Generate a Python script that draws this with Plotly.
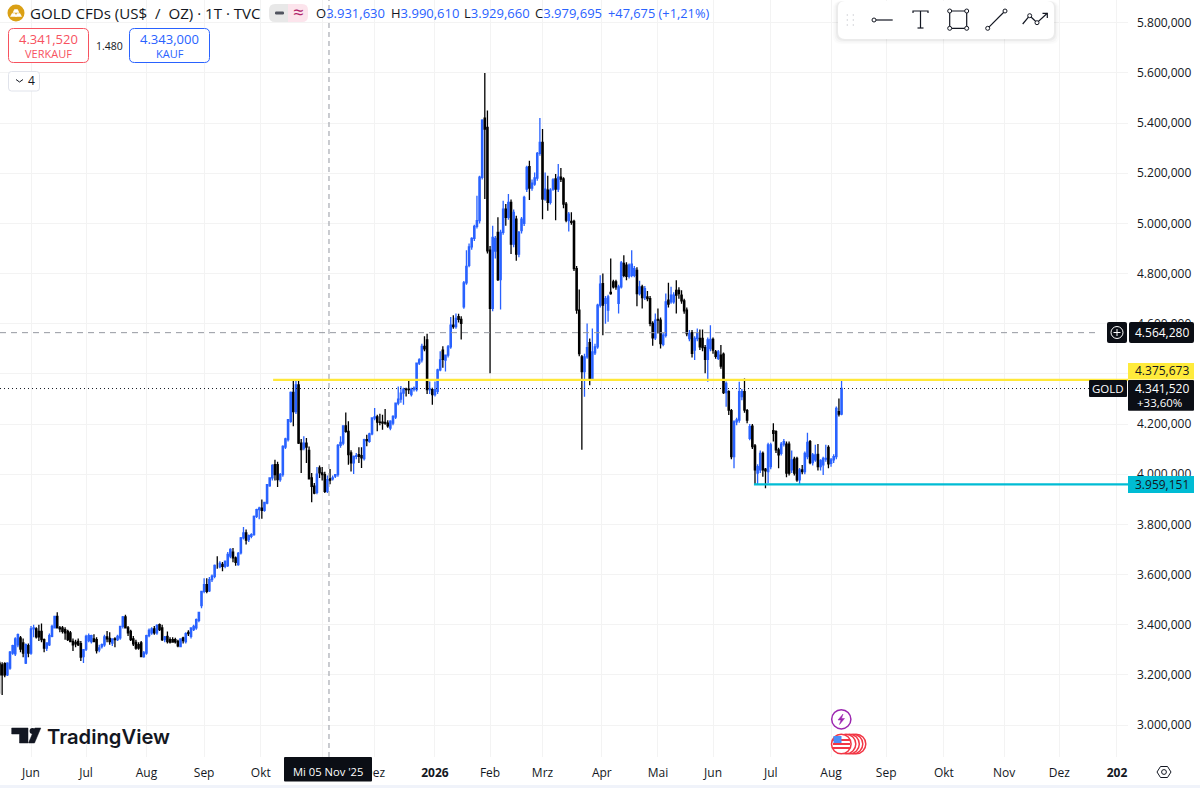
import plotly.graph_objects as go

first_bar = -12
opens = [3247,3240,3245,3200,3227,3287,3284,3320,3347,3327,3247,3316,
3287,3383,3383,3373,3373,3340,3307,3320,3353,3387,
3433,3387,3387,3380,3373,3367,3333,3329,3333,3324,
3273,3303,3337,3333,3343,3340,3300,3313,3320,3351,
3345,3327,3343,3340,3347,3393,3431,3387,3373,3343,
3329,3320,3327,3273,3287,3356,3367,3383,3367,3400,
3387,3340,3353,3340,3340,3340,3333,3313,3347,3333,
3369,3353,3380,3387,3417,3476,3533,3560,3535,3580,
3593,3631,3631,3640,3633,3636,3673,3689,3666,3640,
3686,3746,3766,3739,3752,3759,3832,3859,3865,3856,
3885,3954,3985,4038,4038,3978,3998,4108,4138,4211,
4326,4250,4356,4124,4104,4124,4095,3985,3952,3928,
4025,4005,3998,3932,3981,3981,3992,3998,4115,4124,
4193,4171,4085,4045,4071,4078,4074,4062,4138,4131,
4161,4224,4228,4208,4208,4207,4204,4184,4204,4228,
4283,4299,4323,4339,4339,4317,4339,4337,4443,4456,
4510,4535,4337,4337,4317,4330,4416,4495,4455,4475,
4508,4594,4588,4628,4617,4667,4763,4833,4906,4940,
4988,5011,5184,5420,5383,4893,4661,4890,4964,4776,
4964,5057,5024,5084,4917,5017,4878,4971,5000,5137,
5226,5141,5157,5181,5279,5323,5097,5133,5084,5137,
5177,5137,5184,5177,5077,5011,5008,5008,4820,4654,
4468,4409,4468,4524,4382,4484,4508,4674,4760,4681,
4654,4725,4767,4767,4681,4747,4840,4833,4789,4793,
4793,4813,4720,4747,4704,4707,4700,4601,4544,4617,
4614,4518,4554,4694,4687,4687,4733,4733,4714,4691,
4654,4541,4564,4495,4541,4541,4541,4505,4458,4501,
4537,4488,4462,4475,4479,4325,4329,4253,4070,4209,
4216,4309,4329,4253,4143,4192,4113,4004,4017,4083,
4020,4010,4030,4174,4170,4097,4083,4120,4120,4120,
4017,4060,4063,3977,4017,4010,4070,4130,4046,4057,
4079,4030,4037,4060,4107,4043,4057,4070,4249,4240]
highs = [3255,3250,3250,3250,3295,3320,3350,3365,3355,3345,3325,3325,
3395,3400,3390,3400,3405,3345,3330,3365,3400,3435,
3450,3395,3395,3390,3380,3375,3345,3340,3345,3335,
3300,3360,3365,3360,3362,3350,3320,3325,3360,3375,
3370,3345,3350,3360,3395,3435,3440,3395,3380,3355,
3340,3330,3335,3295,3360,3385,3390,3395,3402,3405,
3400,3355,3373,3350,3350,3348,3340,3345,3352,3370,
3378,3390,3400,3425,3450,3535,3585,3585,3590,3600,
3640,3673,3653,3650,3655,3690,3705,3706,3672,3690,
3750,3789,3779,3760,3765,3835,3862,3870,3899,3890,
3960,3987,4040,4058,4050,4005,4115,4145,4220,4330,
4379,4379,4376,4140,4151,4144,4110,4005,3965,4029,
4035,4029,4010,3995,4021,3995,4000,4120,4151,4195,
4246,4211,4095,4075,4085,4107,4107,4141,4157,4165,
4226,4264,4237,4241,4237,4260,4215,4215,4235,4285,
4350,4352,4345,4345,4376,4345,4350,4445,4462,4520,
4550,4560,4370,4345,4370,4420,4490,4510,4475,4515,
4627,4634,4641,4640,4630,4770,4893,4920,4945,4995,
5110,5190,5415,5600,5450,4910,4991,4950,5024,4975,
5090,5077,5117,5095,5055,5030,4970,5025,5110,5230,
5250,5175,5203,5285,5420,5376,5203,5190,5140,5180,
5197,5237,5221,5184,5085,5045,5044,5015,4830,4736,
4475,4480,4601,4541,4581,4520,4680,4793,4800,4710,
4715,4860,4775,4775,4755,4850,4873,4845,4840,4893,
4830,4825,4771,4755,4750,4730,4710,4610,4641,4661,
4625,4565,4720,4763,4747,4725,4773,4745,4733,4700,
4665,4575,4575,4550,4581,4577,4577,4515,4545,4594,
4545,4495,4495,4515,4485,4370,4335,4260,4215,4225,
4369,4340,4382,4260,4200,4200,4120,4040,4094,4090,
4025,4125,4125,4203,4175,4105,4128,4140,4130,4130,
4094,4070,4070,4025,4037,4090,4165,4136,4085,4117,
4120,4060,4070,4117,4115,4065,4080,4270,4302,4372]
lows = [3125,3120,3190,3195,3220,3280,3275,3310,3290,3270,3243,3270,
3280,3350,3345,3335,3330,3290,3295,3315,3350,3385,
3385,3370,3365,3340,3335,3330,3295,3310,3315,3255,
3247,3295,3330,3325,3330,3285,3290,3305,3312,3330,
3320,3315,3310,3335,3340,3385,3385,3355,3335,3315,
3300,3300,3270,3268,3280,3350,3360,3360,3360,3375,
3335,3330,3325,3325,3330,3325,3310,3310,3325,3325,
3355,3345,3375,3380,3410,3465,3525,3525,3530,3570,
3585,3623,3625,3613,3625,3630,3665,3649,3635,3635,
3680,3740,3720,3730,3745,3755,3825,3820,3822,3850,
3880,3950,3975,3975,3949,3970,3990,4100,4130,4205,
4191,4240,4120,4005,4095,4045,3980,3888,3920,3920,
3985,3975,3925,3925,3960,3975,3985,3990,4105,4115,
4165,4038,4011,4001,4060,4045,4025,4055,4111,4125,
4155,4215,4171,4195,4177,4197,4185,4175,4195,4220,
4275,4285,4277,4310,4320,4310,4330,4330,4435,4445,
4490,4320,4320,4277,4310,4320,4410,4424,4409,4465,
4500,4580,4580,4605,4537,4660,4755,4825,4895,4930,
4980,5000,5175,5097,4880,4402,4650,4860,4770,4657,
4955,4991,5015,4878,4905,4851,4865,4960,4990,5125,
5093,5130,5150,5170,5270,5017,5090,5050,5075,5130,
5013,5125,5165,5060,5005,4968,4995,4810,4640,4470,
4097,4309,4460,4355,4375,4475,4500,4665,4554,4600,
4608,4715,4740,4735,4641,4740,4785,4773,4780,4785,
4785,4670,4712,4661,4695,4690,4590,4512,4535,4561,
4501,4510,4545,4665,4680,4680,4641,4700,4680,4640,
4550,4530,4465,4455,4530,4495,4490,4402,4369,4490,
4480,4460,4455,4420,4320,4269,4236,4060,4024,4195,
4205,4295,4245,4203,4135,4100,3957,3960,4005,3990,
3944,3964,4020,4130,4085,4024,4075,4110,3988,3995,
4005,3995,3970,3957,4000,4000,4060,4040,4035,4050,
4015,4015,3997,4050,4024,4030,4045,4060,4230,4235]
closes = [3200,3200,3200,3247,3290,3316,3343,3360,3303,3287,3320,3287,
3383,3387,3351,3351,3340,3307,3327,3356,3393,3433,
3387,3383,3373,3367,3340,3333,3320,3324,3320,3271,
3300,3353,3356,3356,3333,3297,3307,3320,3351,3343,
3333,3343,3340,3353,3393,3431,3387,3367,3340,3324,
3307,3307,3273,3287,3356,3377,3383,3367,3397,3380,
3340,3351,3333,3331,3331,3332,3316,3343,3337,3364,
3364,3387,3393,3420,3449,3533,3560,3533,3580,3593,
3636,3631,3644,3633,3653,3680,3700,3666,3649,3684,
3746,3766,3737,3755,3759,3832,3859,3865,3856,3888,
3958,3985,4035,3998,3978,3998,4111,4141,4217,4326,
4250,4356,4124,4098,4124,4108,3981,3952,3925,4000,
4005,3998,3932,3978,3976,3985,3998,4115,4127,4193,
4171,4078,4045,4071,4074,4071,4065,4138,4134,4161,
4224,4228,4208,4207,4204,4204,4193,4211,4230,4283,
4299,4323,4339,4337,4337,4339,4343,4443,4456,4510,
4500,4337,4340,4317,4337,4416,4456,4458,4475,4508,
4594,4588,4621,4617,4601,4763,4829,4906,4940,4988,
5011,5184,5412,5376,4891,4661,4944,4940,4776,4964,
5057,5024,5084,4917,5044,4878,4964,5017,5104,5223,
5141,5160,5181,5279,5323,5097,5137,5084,5133,5173,
5137,5184,5177,5077,5013,5037,5004,4820,4654,4481,
4409,4468,4505,4382,4488,4508,4674,4758,4674,4700,
4707,4720,4747,4747,4747,4842,4793,4789,4833,4837,
4820,4720,4747,4704,4740,4700,4601,4544,4614,4614,
4521,4554,4687,4678,4714,4714,4714,4720,4691,4651,
4561,4561,4482,4541,4561,4508,4505,4458,4535,4537,
4495,4470,4488,4431,4325,4362,4256,4070,4209,4216,
4329,4329,4256,4216,4190,4110,4017,4030,4083,4017,
4013,4117,4117,4163,4097,4077,4120,4130,4004,4004,
4057,4004,3977,4017,4010,4083,4127,4046,4077,4077,
4030,4055,4063,4063,4041,4057,4070,4262,4240,4342]

month_bars = [0,21,44,66,87.6,111,131,154,175,195,217.6,239,260,282,305,326,348,371,392,414]
month_labels = ["Jun","Jul","Aug","Sep","Okt","","Dez","<b>2026</b>","Feb","Mrz","Apr","Mai","Jun","Jul","Aug","Sep","Okt","Nov","Dez","<b>202</b>"]
price_ticks = [3000,3200,3400,3600,3800,4000,4200,4400,4600,4800,5000,5200,5400,5600,5800]
price_labels = ["3.000,000","3.200,000","3.400,000","3.600,000","3.800,000","4.000,000","4.200,000","","4.600,000","4.800,000","5.000,000","5.200,000","5.400,000","5.600,000","5.800,000"]
resistance, support, alert_level, last_price = 4375.673, 3959.151, 4564.280, 4341.520
crosshair_bar = 113.6
resistance_start_bar = 92.3
support_start_bar = 275.6

PLOT_W, PLOT_H = 1128.0, 757.0
FONT = "Open Sans"
INK = "#131722"
BLUE = "#2962FF"
RED = "#F7525F"
GRID = "#F3F3F3"

def X(px): return px / PLOT_W
def Y(py): return 1 - py / PLOT_H

shapes, notes = [], []

def rect(x0, y0, x1, y1, fill="rgba(0,0,0,0)", line=None, w=1, r=0):
    if r:
        p = (f"M {X(x0+r)} {Y(y0)} L {X(x1-r)} {Y(y0)} Q {X(x1)} {Y(y0)} {X(x1)} {Y(y0+r)} "
             f"L {X(x1)} {Y(y1-r)} Q {X(x1)} {Y(y1)} {X(x1-r)} {Y(y1)} L {X(x0+r)} {Y(y1)} "
             f"Q {X(x0)} {Y(y1)} {X(x0)} {Y(y1-r)} L {X(x0)} {Y(y0+r)} Q {X(x0)} {Y(y0)} {X(x0+r)} {Y(y0)} Z")
        shapes.append(dict(type="path", xref="paper", yref="paper", path=p, fillcolor=fill,
                           line=dict(color=line or "rgba(0,0,0,0)", width=w if line else 0), layer="above"))
    else:
        shapes.append(dict(type="rect", xref="paper", yref="paper", x0=X(x0), x1=X(x1), y0=Y(y0), y1=Y(y1),
                           fillcolor=fill, line=dict(color=line or "rgba(0,0,0,0)", width=w if line else 0), layer="above"))

def seg(points, color=INK, w=1.2, fill=None, close=False):
    p = "M " + " L ".join(f"{X(a)} {Y(b)}" for a, b in points) + (" Z" if close else "")
    shapes.append(dict(type="path", xref="paper", yref="paper", path=p, fillcolor=fill or "rgba(0,0,0,0)",
                       line=dict(color=color, width=w), layer="above"))

def circ(cx, cy, r, color=INK, w=1.2, fill="rgba(0,0,0,0)"):
    shapes.append(dict(type="circle", xref="paper", yref="paper", x0=X(cx-r), x1=X(cx+r), y0=Y(cy-r), y1=Y(cy+r),
                       fillcolor=fill, line=dict(color=color, width=w), layer="above"))

def txt(x, y, s, size=12, color=INK, anchor="left", weight=None, family=FONT):
    f = dict(family=family, size=size, color=color)
    if weight: f["weight"] = weight
    notes.append(dict(xref="paper", yref="paper", x=X(x), y=Y(y), text=s, showarrow=False,
                      xanchor=anchor, yanchor="middle", font=f, borderpad=0, borderwidth=0))

# level lines
shapes += [
    dict(type="line", xref="paper", yref="y", x0=0, x1=X(1100), y0=alert_level, y1=alert_level,
         line=dict(color="#9598A1", width=1, dash="6px,5px"), layer="above"),
    dict(type="line", xref="paper", yref="y", x0=0, x1=X(1089), y0=last_price, y1=last_price,
         line=dict(color=INK, width=1, dash="1px,3px"), layer="above"),
    dict(type="line", xref="x", yref="paper", x0=crosshair_bar, x1=crosshair_bar, y0=0, y1=1,
         line=dict(color="#9598A1", width=1, dash="5px,4px"), layer="above"),
    dict(type="line", xref="x", yref="y", x0=resistance_start_bar, x1=418.2, y0=resistance, y1=resistance,
         line=dict(color="#FFE838", width=2.2), layer="above"),
    dict(type="line", xref="x", yref="y", x0=support_start_bar, x1=418.2, y0=support, y1=support,
         line=dict(color="#00BCD4", width=2.2), layer="above"),
]

# bottom strip, crosshair date label
rect(0, 785, 1200, 788, fill="#F0F3FA")
rect(284, 757, 372, 781.5, fill="#0B0E15", r=1)
txt(328, 771.5, "Mi 05 Nov '25", 11.2, "#FFFFFF", "center")

# header
circ(16, 13, 8.5, "#DAA015", 0, "#DAA015")
seg([(10.5,16.5),(12,13.5),(15,13.5),(16.5,16.5)], "#FFFFFF", 0.5, "#FFFFFF", True)
seg([(15.5,16.5),(17,13.5),(20,13.5),(21.5,16.5)], "#FFFFFF", 0.5, "#FFFFFF", True)
seg([(13,12.5),(14.5,9.5),(17.5,9.5),(19,12.5)], "#FFFFFF", 0.5, "#FFFFFF", True)
txt(30, 13, "GOLD CFDs (US$  /  OZ) · 1T · TVC", 15.1)
rect(269, 4, 288, 22, fill="#E8E8E8", r=6)
rect(288, 4, 308, 22, fill="#FCE4EC", r=6)
rect(282, 4, 294, 22, fill="#E8E8E8")
rect(288, 4, 294, 22, fill="#FCE4EC")
rect(275, 11.5, 284, 14.5, fill="#50535E", r=1.2)
txt(298, 12.5, "≈", 19, "#B0226A", "center")
B = '<span style="color:#2962FF">%s</span>'
txt(316, 13, "O" + B % "3.931,630", 13)
txt(390.5, 13, "H" + B % "3.990,610", 13)
txt(464, 13, "L" + B % "3.929,660", 13)
txt(535, 13, "C" + B % "3.979,695", 13)
txt(608, 13, B % "+47,675 (+1,21%)", 12.8)

rect(8.5, 28.5, 88.5, 62.5, fill="#FFFFFF", line=RED, w=1, r=5)
txt(48.5, 39.5, "4.341,520", 13, RED, "center")
txt(48.5, 53, "VERKAUF", 11, RED, "center")
txt(109, 46, "1.480", 10.5, INK, "center")
rect(129.5, 28.5, 209.5, 62.5, fill="#FFFFFF", line=BLUE, w=1, r=5)
txt(169.5, 39.5, "4.343,000", 13, BLUE, "center")
txt(169.5, 53, "KAUF", 11, BLUE, "center")
rect(8.5, 71.5, 39.5, 91, fill="#FFFFFF", line="#E0E3EB", w=1, r=3)
seg([(16,79.5),(19.5,82),(23,79.5)], INK, 1)
txt(31.5, 81, "4", 12, INK, "center")

# drawing toolbar
for k, a in ((5, .015), (3.5, .025), (2, .04)):
    rect(838-k, 1, 1054+k, 39+k, fill=f"rgba(0,0,0,{a})", r=8)
rect(838, 1, 1054, 39, fill="#FFFFFF", r=7)
for gx in (847.3, 853.3):
    for gy in (15, 20, 25):
        circ(gx, gy, 0.7, "#C9CBD1", 0, "#C9CBD1")
circ(874, 20, 2, INK, 1)
seg([(876,20),(892.7,20)])
seg([(913,13),(913,11),(928,11),(928,13)])
seg([(920.5,11),(920.5,28)])
seg([(917.5,28),(923.5,28)])
seg([(949.7,11),(966.7,11),(966.7,28.3),(949.7,28.3)], INK, 1.2, None, True)
for cx, cy in ((949.7,11),(966.7,11),(949.7,28.3),(966.7,28.3)):
    circ(cx, cy, 2, INK, 1, "#FFFFFF")
seg([(987.7,28.3),(1005,11)])
circ(987.7, 28.3, 2, INK, 1, "#FFFFFF")
circ(1005, 11, 2, INK, 1, "#FFFFFF")
seg([(1022.7,24),(1029.7,15.7),(1037,22.7),(1047.3,13.3)])
seg([(1042.5,13.3),(1047.3,13.3),(1047.3,18)])
circ(1029.7, 15.7, 2, INK, 1, "#FFFFFF")
circ(1037, 22.7, 2, INK, 1, "#FFFFFF")

# price tags
rect(1107, 322, 1127, 343, fill="#0B0E15", r=2)
circ(1117, 332.5, 6, "#FFFFFF", 1)
seg([(1113.5,332.5),(1120.5,332.5)], "#FFFFFF", 1)
seg([(1117,329),(1117,336)], "#FFFFFF", 1)
rect(1129, 322, 1194, 343, fill="#0B0E15", r=2)
txt(1161.5, 332.5, "4.564,280", 12, "#FFFFFF", "center")
rect(1128, 363, 1194, 379.5, fill="#FFEB3B")
txt(1161.5, 371, "4.375,673", 12, INK, "center")
rect(1128, 380, 1194, 410.7, fill="#0B0E15", r=1)
txt(1161.5, 388.5, "4.341,520", 12, "#FFFFFF", "center")
txt(1137, 402, "+33,60%", 11.5, "#FFFFFF", "left")
rect(1089, 380, 1127, 397, fill="#0B0E15", r=1)
txt(1108, 388.5, "GOLD", 11.5, "#FFFFFF", "center")
rect(1128, 476, 1194, 493, fill="#00BCD4")
txt(1161.5, 484.5, "3.959,151", 12, INK, "center")

# settings hexagon
seg([(1157,772),(1160.5,766.5),(1167.5,766.5),(1171,772),(1167.5,777.5),(1160.5,777.5)], INK, 1, None, True)
circ(1164, 772, 2.4, INK, 1)

# TradingView logo
seg([(11.7,728),(28,728),(28,743),(19.5,743),(19.5,734),(11.7,734)], "#131722", 0.5, "#131722", True)
circ(32.5, 731, 2.9, "#131722", 0, "#131722")
seg([(34.5,743),(28.5,743),(34.8,728),(40.8,728)], "#131722", 0.5, "#131722", True)
txt(47, 736.5, "TradingView", 20.2, "#131722", "left", 600, "Inter")

# events
circ(841.3, 719.3, 9.6, "#9C27B0", 1.5, "#FFFFFF")
seg([(843,714),(838,720),(841,720),(839.5,724.5),(844.5,718.5),(841.5,718.5)], "#9C27B0", 0.5, "#9C27B0", True)
for cx in (856, 853, 849.5, 846, 841.3):
    circ(cx, 744, 9.8, "#F23645", 1.5, "#FFFFFF")
rect(833, 739, 850, 741, fill="#F23645")
rect(833, 743, 850, 745, fill="#F23645")
rect(833, 747, 850, 749, fill="#F23645")
rect(833.5, 736, 841.5, 743, fill="#4C8DF6")

bar_index = list(range(first_bar, first_bar + len(opens)))
fig = go.Figure(go.Candlestick(
    x=bar_index, open=opens, high=highs, low=lows, close=closes,
    increasing=dict(line=dict(color=BLUE, width=1.3), fillcolor=BLUE),
    decreasing=dict(line=dict(color="#000000", width=1.3), fillcolor="#000000"),
    whiskerwidth=0, hoverinfo="skip", showlegend=False, name="GOLD CFDs",
))
fig.update_layout(
    width=1200, height=788, margin=dict(l=0, r=72, t=0, b=31, pad=0),
    paper_bgcolor="#FFFFFF", plot_bgcolor="#FFFFFF", separators=",.",
    font=dict(family=FONT, size=12, color=INK), showlegend=False,
    shapes=shapes, annotations=notes, hovermode=False,
    xaxis=dict(range=[-11.82, 418.2], tickmode="array", tickvals=month_bars, ticktext=month_labels,
               showgrid=True, gridcolor=GRID, gridwidth=1, zeroline=False, showline=False,
               ticks="", tickangle=0, ticklabelstandoff=7, rangeslider=dict(visible=False),
               tickfont=dict(size=12, color=INK, family=FONT)),
    yaxis=dict(range=[2872.4, 5890.7], side="right", tickmode="array", tickvals=price_ticks, ticktext=price_labels,
               showgrid=True, gridcolor=GRID, gridwidth=1, zeroline=False, showline=False,
               ticks="", ticklabelstandoff=8, tickfont=dict(size=12, color=INK, family=FONT)),
)
fig.write_html("out.html", config=dict(displayModeBar=False), post_script="document.body.style.margin='0';")
